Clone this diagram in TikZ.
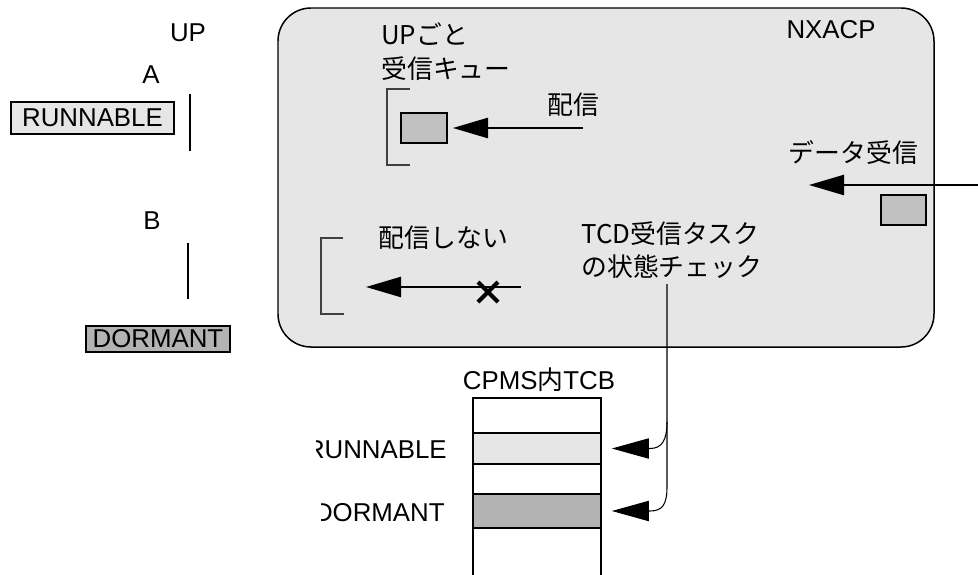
\documentclass[tikz,border=0pt]{standalone}
\usepackage{fontspec}
\setmainfont{Liberation Sans}
\newfontfamily\jp{Noto Sans CJK JP}
\usetikzlibrary{arrows.meta,positioning}
\definecolor{panelgray}{HTML}{E6E6E6}
\definecolor{qgray}{HTML}{C0C0C0}
\definecolor{dormgray}{HTML}{B3B3B3}
\definecolor{brackgray}{HTML}{404040}

\begin{document}
\begin{tikzpicture}[
    x=0.02cm, y=-0.02cm,
    font=\fontsize{14.7}{18.7}\selectfont,
    lbl/.style={inner sep=0pt},
    jlbl/.style={inner sep=0pt, align=left, font=\jp\fontsize{14.7}{19}\selectfont},
    statebox/.style={rectangle, draw, line width=1.1pt, inner sep=0pt},
    msg/.style={rectangle, draw, line width=1.1pt, fill=qgray, minimum width=0.92cm, minimum height=0.6cm},
    cell/.style={rectangle, draw, line width=1.1pt, outer sep=0pt, minimum width=2.56cm, inner sep=0pt},
    bracket/.style={draw=brackgray, line width=0.6pt},
    arrow/.style={-{Triangle[length=20pt,width=11.5pt]}, line width=1.1pt},
    feed/.style={-{Triangle[length=21pt,width=11.5pt]}, line width=0.6pt}
]
\useasboundingbox (0,0) rectangle (978,575);

\node[lbl] (up) at (188,33) {UP};
\node[lbl] (upa) at (151,75) {A};
\node[statebox, fill=panelgray, minimum width=3.26cm, minimum height=0.64cm] (runa) at (92.5,118) {RUNNABLE};
\node[lbl] (upb) at (152,221) {B};
\node[statebox, fill=dormgray, minimum width=2.88cm, minimum height=0.52cm] (dormb) at (158,339) {DORMANT};
\draw[line width=1.1pt] (190,94) -- (190,151);
\draw[line width=1.1pt] (188,243) -- (188,299);

\draw[fill=panelgray, line width=0.85pt, rounded corners=0.66cm] (278,8) rectangle (934,347);
\node[lbl] (nxacp) at (831,30) {NXACP};

\node[jlbl, anchor=west] (queue) at (381,51.5) {UPごと\\受信キュー};
\draw[bracket] (410,89) -- (387,89) -- (387,165) -- (410,165);
\node[msg] (qmsg) at (424,128) {};
\node[jlbl] (dist) at (573,105) {配信};
\coordinate (distsrc) at (583,128);
\draw[arrow, shorten >=2.8pt] (distsrc) -- (qmsg.east);

\node[jlbl] (recv) at (853.5,153) {データ受信};
\coordinate (recvsrc) at (978,185);
\coordinate (recvdst) at (809,185);
\draw[arrow] (recvsrc) -- (recvdst);
\node[msg, minimum width=0.9cm] (rmsg) at (903.5,210) {};

\node[jlbl] (nodist) at (443.5,238) {配信しない};
\draw[bracket] (343,238) -- (321,238) -- (321,314) -- (344,314);
\coordinate (nosrc) at (521,287);
\coordinate (nodst) at (366,287);
\draw[arrow] (nosrc) -- (nodst);
\draw[line width=2.4pt] (478,282) -- (498,302) (478,302) -- (498,282);

\node[jlbl, anchor=west] (tcd) at (581,250) {TCD受信タスク\\の状態チェック};

\node[lbl] (tcb) at (539,380) {CPMS{\jp 内}TCB};
\node[cell, minimum height=0.7cm] (c1) at (537,415.5) {};
\node[cell, fill=panelgray, minimum height=0.62cm] (c2) at (537,448.5) {};
\node[cell, minimum height=0.6cm] (c3) at (537,479) {};
\node[cell, fill=dormgray, minimum height=0.68cm] (c4) at (537,511) {};
\draw[line width=1.1pt] (c4.south west) -- (473,575) (c4.south east) -- (601,575);

\begin{scope}
\clip (316,420) rectangle (470,480);
\node[lbl, anchor=east] (runlbl) at (447,450) {RUNNABLE};
\end{scope}
\begin{scope}
\clip (321,490) rectangle (470,540);
\node[lbl, anchor=east] (dorlbl) at (445,513) {DORMANT};
\end{scope}

\coordinate (chk) at (667,284);
\coordinate (split) at (667,422);
\draw[feed, shorten >=6.2pt] (chk) -- (split) .. controls (667,440) and (662,448.5) .. (650,448.5) -- (c2.east);
\draw[feed, shorten >=6.2pt] (split) -- (667,487) .. controls (667,505) and (662,511) .. (650,511) -- (c4.east);
\end{tikzpicture}
\end{document}
